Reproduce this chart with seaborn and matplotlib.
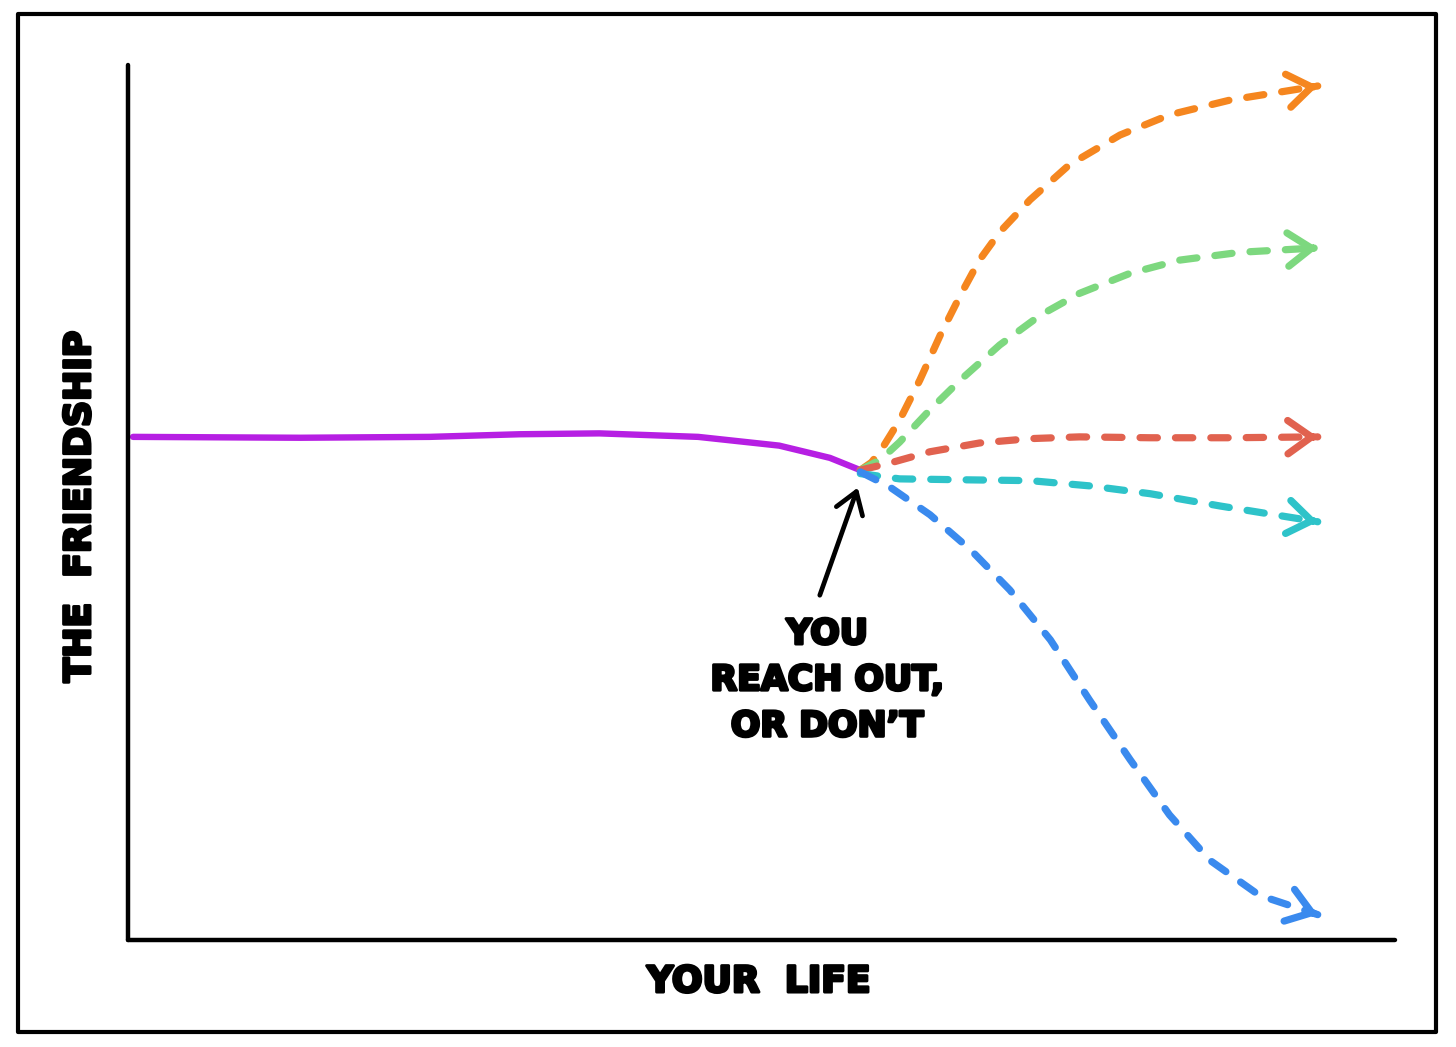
import numpy as np
import pandas as pd
import matplotlib
matplotlib.use("Agg")
import matplotlib.pyplot as plt
import matplotlib.patheffects as pe
from matplotlib.patches import Rectangle
import seaborn as sns

# ---- data (life time 0..100, friendship 0..100) ----
past_x = [0.4, 13.6, 23.8, 30.9, 37.2, 45.0, 51.4, 55.4, 57.8]
past_y = [57.5, 57.4, 57.5, 57.8, 57.9, 57.5, 56.5, 55.1, 53.7]

orange_x = [57.8, 58.7, 59.7, 60.9, 62.5, 64.1, 65.7, 67.2, 68.8, 71.2, 74.3, 78.3, 82.2, 87.0, 93.9]
orange_y = [53.7, 54.6, 56.6, 59.4, 64.0, 69.1, 73.7, 77.7, 80.9, 84.6, 88.6, 92.0, 94.3, 96.0, 97.6]

green_x = [57.8, 59.4, 60.9, 63.3, 65.7, 68.8, 72.0, 75.1, 79.1, 83.0, 87.8, 93.9]
green_y = [53.7, 54.9, 56.9, 60.6, 64.0, 68.0, 71.4, 73.9, 76.2, 77.7, 78.6, 79.1]

red_x = [57.8, 60.1, 63.3, 67.2, 71.2, 75.1, 80.7, 87.0, 93.9]
red_y = [53.7, 54.5, 55.8, 56.8, 57.3, 57.5, 57.4, 57.4, 57.5]

cyan_x = [57.8, 60.9, 65.7, 71.2, 75.9, 80.7, 86.2, 93.9]
cyan_y = [53.3, 52.7, 52.6, 52.5, 51.9, 51.0, 49.6, 47.8]

blue_x = [57.8, 60.1, 63.3, 66.5, 69.6, 72.8, 75.9, 79.1, 82.2, 85.4, 89.3, 93.9]
blue_y = [53.5, 51.8, 48.6, 44.6, 40.0, 34.3, 27.4, 20.6, 14.3, 9.1, 5.1, 2.9]

futures = [
    ("orange", orange_x, orange_y, "#F5861F"),
    ("green", green_x, green_y, "#7DD87F"),
    ("red", red_x, red_y, "#E1624F"),
    ("cyan", cyan_x, cyan_y, "#2EC3C9"),
    ("blue", blue_x, blue_y, "#3A8AEE"),
]

note_text = "YOU\nREACH OUT,\nOR DON\u2019T"
note_xy = (55.2, 29.7)
pointer_from = (54.6, 39.4)
pointer_to = (57.6, 51.7)
x_label = "YOUR  LIFE"
y_label = "THE  FRIENDSHIP"

# ---- figure ----
sns.set_style("white")
plt.rcParams["font.family"] = ["DejaVu Sans"]

fig = plt.figure(figsize=(14.56, 10.47), dpi=100)
W, H = 1456, 1047
ax = fig.add_axes([128 / W, 1 - 940 / H, 1267 / W, 875 / H])
ax.set_xlim(0, 100)
ax.set_ylim(0, 100)
ax.set_xticks([])
ax.set_yticks([])
for s in ["top", "right"]:
    ax.spines[s].set_visible(False)
for s in ["left", "bottom"]:
    ax.spines[s].set_linewidth(3.2)
    ax.spines[s].set_color("black")
    ax.spines[s].set_capstyle("round")
ax.set_facecolor("white")

# outer frame
fig.patches.append(Rectangle((18 / W, 1 - 1032 / H), (1436 - 18) / W, (1032 - 14) / H,
                             transform=fig.transFigure, fill=False, lw=3.0,
                             edgecolor="black", joinstyle="round"))

# past line
df_past = pd.DataFrame({"x": past_x, "y": past_y})
sns.lineplot(data=df_past, x="x", y="y", ax=ax, sort=False, estimator=None,
             color="#B61FE3", lw=4.6, solid_capstyle="round", solid_joinstyle="round")

# future dashed lines with arrowheads
LW = 5.2
for name, xs, ys, col in futures:
    d = pd.DataFrame({"x": xs, "y": ys})
    sns.lineplot(data=d, x="x", y="y", ax=ax, sort=False, estimator=None,
                 color=col, lw=LW, linestyle=(0, (2.4, 2.5)),
                 dash_capstyle="round", dash_joinstyle="round")
    p1 = ax.transData.transform((xs[-2], ys[-2]))
    p2 = ax.transData.transform((xs[-1], ys[-1]))
    v = (p2 - p1) / np.hypot(*(p2 - p1))
    tail = ax.transData.inverted().transform(p2 - v * 4)
    ax.annotate("", xy=(xs[-1], ys[-1]), xytext=tuple(tail),
                arrowprops=dict(arrowstyle="->,head_length=0.85,head_width=0.6",
                                lw=LW, color=col, shrinkA=0, shrinkB=0,
                                mutation_scale=20, capstyle="round", joinstyle="round"))

ax.set_xlabel("")
ax.set_ylabel("")

# pointer arrow
ax.annotate("", xy=pointer_to, xytext=pointer_from,
            arrowprops=dict(arrowstyle="->,head_length=0.75,head_width=0.5",
                            lw=3.4, color="black", shrinkA=0, shrinkB=0,
                            mutation_scale=20, capstyle="round", joinstyle="round"))

thick = [pe.withStroke(linewidth=2.2, foreground="black")]
ax.text(note_xy[0], note_xy[1], note_text, ha="center", va="center",
        fontsize=25, fontweight="bold", linespacing=1.45, color="black",
        path_effects=thick)

fig.text(759 / W, 1 - 982 / H, x_label, ha="center", va="center",
         fontsize=26, fontweight="bold", color="black", path_effects=thick)
fig.text(80 / W, 1 - 506 / H, y_label, ha="center", va="center", rotation=90,
         fontsize=26, fontweight="bold", color="black", path_effects=thick)

fig.savefig("out.png", dpi=100, facecolor="white")
